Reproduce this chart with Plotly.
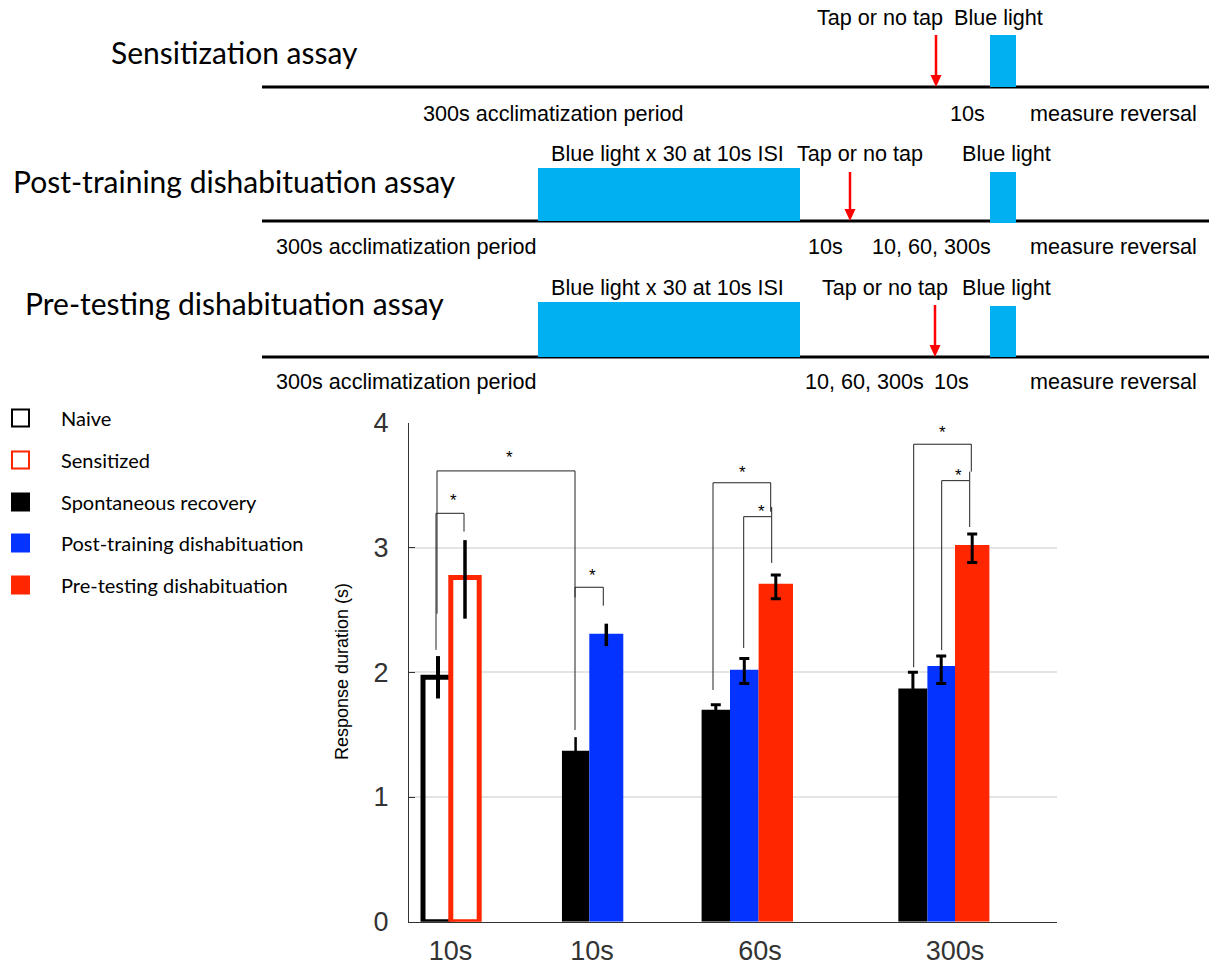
import plotly.graph_objects as go

# ---------------- data ----------------
GROUP_LABELS = ["10s", "10s", "60s", "300s"]

naive_mean = [1.96]
naive_err_plus = [0.17]
naive_err_minus = [0.17]

sens_mean = [2.76]
sens_err_plus = [0.30]
sens_err_minus = [0.33]

# Spontaneous recovery: 10s, 60s, 300s
spont_mean = [1.37, 1.70, 1.87]
spont_err_plus = [0.11, 0.04, 0.13]
spont_err_minus = [0.11, 0.04, 0.13]

# Post-training dishabituation: 10s, 60s, 300s
post_mean = [2.31, 2.02, 2.05]
post_err_plus = [0.08, 0.09, 0.08]
post_err_minus = [0.10, 0.11, 0.14]

# Pre-testing dishabituation: 60s, 300s
pre_mean = [2.71, 3.02]
pre_err_plus = [0.07, 0.09]
pre_err_minus = [0.12, 0.14]

LEGEND_LABELS = ["Naive", "Sensitized", "Spontaneous recovery",
                 "Post-training dishabituation", "Pre-testing dishabituation"]

# ---------------- layout constants ----------------
W, H = 1209, 970
BLACK, BLUE, RED = "#000000", "#0433ff", "#ff2600"
SKY = "#00b0f0"
AX = "#333333"

# bar positions/widths on the x axis (axis units)
NAIVE_X, NAIVE_W = [29.0], 30.0
SENS_X, SENS_W = [56.0], 28.4
SPONT_X = [166.6, 306.8, 503.9]
SPONT_W = [27.3, 28.4, 29.1]
POST_X = [197.3, 335.3, 532.2]
POST_W = [34.0, 28.6, 27.6]
PRE_X = [366.8, 563.2]
PRE_W = [34.4, 34.4]
TICK_X = [41.5, 183.0, 351.0, 546.0]

def px(x):
    return x / W

def py(y):
    return 1 - y / H

fig = go.Figure()

def add_bars(x, y, w, ep, em, color, line_color=None, line_w=0, fill=None,
             err_w=0, err_thick=3):
    fig.add_trace(go.Bar(
        x=x, y=y, width=w,
        marker=dict(color=fill if fill else color,
                    line=dict(color=line_color if line_color else color, width=line_w)),
        error_y=dict(type="data", symmetric=False, array=ep, arrayminus=em,
                     color="#000000", thickness=err_thick, width=err_w),
        cliponaxis=False, showlegend=False, hoverinfo="skip",
    ))

# group 1: naive (outline) and sensitized (outline)
add_bars(NAIVE_X, naive_mean, NAIVE_W, naive_err_plus, naive_err_minus,
         BLACK, line_color=BLACK, line_w=5, fill="rgba(255,255,255,0)", err_thick=4)
add_bars(SENS_X, sens_mean, SENS_W, sens_err_plus, sens_err_minus,
         RED, line_color=RED, line_w=5, fill="#ffffff", err_thick=3.5)

# group 2 (no caps)
add_bars(SPONT_X[:1], spont_mean[:1], SPONT_W[:1], spont_err_plus[:1], spont_err_minus[:1],
         BLACK, err_thick=2.5)
add_bars(POST_X[:1], post_mean[:1], POST_W[:1], post_err_plus[:1], post_err_minus[:1],
         BLUE, err_thick=3.5)

# groups 3, 4 (with caps)
add_bars(SPONT_X[1:], spont_mean[1:], SPONT_W[1:], spont_err_plus[1:], spont_err_minus[1:],
         BLACK, err_w=5, err_thick=3)
add_bars(POST_X[1:], post_mean[1:], POST_W[1:], post_err_plus[1:], post_err_minus[1:],
         BLUE, err_w=5, err_thick=3)
add_bars(PRE_X, pre_mean, PRE_W, pre_err_plus, pre_err_minus,
         RED, err_w=5, err_thick=3)

shapes = []
annotations = []

# significance brackets: (x_left, y_left_bottom, x_right, y_right_bottom, y_top)
BRACKETS = [
    (27.0, 2.18, 55.0, 3.128, 3.275),
    (28.0, 2.47, 166.0, 1.537, 3.615),
    (166.0, 2.60, 194.3, 2.534, 2.682),
    (304.0, 1.858, 361.7, 3.288, 3.52),
    (334.7, 2.195, 362.7, 2.877, 3.248),
    (504.7, 2.04, 562.3, 3.609, 3.829),
    (532.7, 2.178, 560.7, 3.165, 3.537),
]
STARS = [(44.3, 3.42), (100.3, 3.764), (183.7, 2.82), (333.0, 3.64),
         (352.0, 3.33), (533.7, 3.96), (549.3, 3.62)]
for xl, yl, xr, yr, yt in BRACKETS:
    shapes.append(dict(type="path", xref="x", yref="y",
                       path=f"M {xl},{yl} L {xl},{yt} L {xr},{yt} L {xr},{yr}",
                       line=dict(color="#222222", width=1)))
# right ticks running slightly above the inner brackets
shapes.append(dict(type="line", xref="x", yref="y", x0=362.7, x1=362.7, y0=3.248, y1=3.326,
                   line=dict(color="#222222", width=1)))
shapes.append(dict(type="line", xref="x", yref="y", x0=560.7, x1=560.7, y0=3.537, y1=3.609,
                   line=dict(color="#222222", width=1)))
for sx, sy in STARS:
    annotations.append(dict(x=sx, y=sy, xref="x", yref="y", text="*", showarrow=False,
                            font=dict(family="Liberation Sans", size=17, color="#000"),
                            yshift=-5))

# y axis title
annotations.append(dict(x=px(342), y=py(672), xref="paper", yref="paper",
                        xanchor="center", yanchor="middle",
                        text="Response duration (s)", textangle=-90, showarrow=False,
                        font=dict(family="Liberation Sans", size=18, color="#000")))

# ---------------- legend (manual) ----------------
LEG_Y = [418, 460, 502, 543, 585]
LEG_FILL = ["#ffffff", "#ffffff", BLACK, BLUE, RED]
LEG_LINE = [BLACK, RED, BLACK, BLUE, RED]
for lab, yy, fc, lc in zip(LEGEND_LABELS, LEG_Y, LEG_FILL, LEG_LINE):
    shapes.append(dict(type="rect", xref="paper", yref="paper",
                       x0=px(12), x1=px(29), y0=py(yy + 8.5), y1=py(yy - 8.5),
                       fillcolor=fc, line=dict(color=lc, width=2)))
    annotations.append(dict(x=px(59), y=py(yy), xref="paper", yref="paper", text=lab,
                            xanchor="left", yanchor="middle", showarrow=False,
                            font=dict(family="Lato", size=20, color="#000")))

# ---------------- schematic ----------------
TITLES = [("Sensitization assay", 52), ("Post-training dishabituation assay", 181),
          ("Pre-testing dishabituation assay", 303)]
for t, yy in TITLES:
    annotations.append(dict(x=px(234), y=py(yy), xref="paper", yref="paper", text=t,
                            xanchor="center", yanchor="middle", showarrow=False,
                            font=dict(family="Lato", size=30, color="#000")))

LINE_Y = [87, 221, 357]
for yy in LINE_Y:
    shapes.append(dict(type="line", xref="paper", yref="paper", x0=px(262), x1=px(1209),
                       y0=py(yy), y1=py(yy), line=dict(color="#000", width=3)))

BLOCKS = [(990, 1016, 35, 87), (538, 800, 168, 221), (990, 1016, 172, 223),
          (538, 800, 302, 357), (990, 1016, 306, 357)]
for x0, x1, y0, y1 in BLOCKS:
    shapes.append(dict(type="rect", xref="paper", yref="paper", x0=px(x0), x1=px(x1),
                       y0=py(y1), y1=py(y0), fillcolor=SKY, line=dict(width=0)))

ARROWS = [(936, 35, 87), (850, 172, 221), (935, 305, 357)]
for ax, y0, y1 in ARROWS:
    shapes.append(dict(type="line", xref="paper", yref="paper", x0=px(ax), x1=px(ax),
                       y0=py(y0), y1=py(y1 - 10), line=dict(color="#ff0000", width=2.5)))
    shapes.append(dict(type="path", xref="paper", yref="paper",
                       path=f"M {px(ax-5.5)},{py(y1-12)} L {px(ax+5.5)},{py(y1-12)} L {px(ax)},{py(y1)} Z",
                       fillcolor="#ff0000", line=dict(width=0)))

SCHEM_TEXT = [
    ("Tap or no tap", 880, 17), ("Blue light", 998, 17),
    ("300s acclimatization period", 553, 113), ("10s", 967, 113), ("measure reversal", 1113, 113),
    ("Blue light x 30 at 10s ISI", 667, 153), ("Tap or no tap", 860, 153), ("Blue light", 1006, 153),
    ("300s acclimatization period", 406, 247), ("10s", 825, 247), ("10, 60, 300s", 931, 247),
    ("measure reversal", 1113, 247),
    ("Blue light x 30 at 10s ISI", 667, 287), ("Tap or no tap", 885, 287), ("Blue light", 1006, 287),
    ("300s acclimatization period", 406, 382), ("10, 60, 300s", 864, 382), ("10s", 951, 382),
    ("measure reversal", 1113, 382),
]
for t, xx, yy in SCHEM_TEXT:
    annotations.append(dict(x=px(xx), y=py(yy), xref="paper", yref="paper", text=t,
                            xanchor="center", yanchor="middle", showarrow=False,
                            font=dict(family="Liberation Sans", size=21.6, color="#000")))

fig.update_layout(
    width=W, height=H, margin=dict(l=0, r=0, t=0, b=0),
    paper_bgcolor="white", plot_bgcolor="white",
    barmode="overlay", showlegend=False,
    shapes=shapes, annotations=annotations,
    xaxis=dict(domain=[px(409), px(1057)], range=[0, 648], tickvals=TICK_X,
               ticktext=GROUP_LABELS, showline=True, linecolor=AX, linewidth=1,
               ticks="", showgrid=False, zeroline=False, automargin=False,
               tickfont=dict(family="Liberation Sans", size=27, color=AX),
               ticklabelstandoff=5),
    yaxis=dict(domain=[(H - 921.7) / H, (H - 422.9) / H], range=[0, 4],
               tickvals=[0, 1, 2, 3, 4], ticks="inside", ticklen=6, tickcolor=AX,
               showline=True, linecolor=AX, linewidth=1, showgrid=True,
               gridcolor="#e4e4e4", gridwidth=1.5, zeroline=False, automargin=False,
               tickfont=dict(family="Liberation Sans", size=27, color=AX),
               ticklabelstandoff=14),
)

fig.write_html("out.html")
